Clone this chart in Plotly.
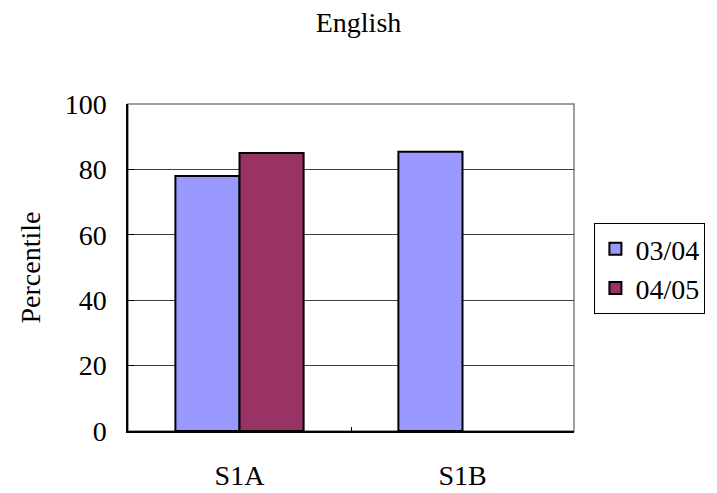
import plotly.graph_objects as go

# datos
categorias = ["S1A", "S1B"]
serie_0304 = [78, 85.4]
serie_0405 = [85, None]
ticks_y = [0, 20, 40, 60, 80, 100]

fuente = "Liberation Serif"
negro = dict(family=fuente, size=28, color="black")

fig = go.Figure()
fig.add_trace(go.Bar(x=categorias, y=serie_0304, name="03/04",
                     marker=dict(color="#9999FF", line=dict(color="black", width=2))))
fig.add_trace(go.Bar(x=categorias, y=serie_0405, name="04/05",
                     marker=dict(color="#993366", line=dict(color="black", width=2))))

# borde gris del area de trazado
fig.add_shape(type="rect", xref="paper", yref="paper", x0=0, y0=0, x1=1, y1=1,
              line=dict(color="#808080", width=1.5), layer="below")

fig.update_layout(
    template="none",
    width=717, height=493,
    margin=dict(l=128, r=130, t=104, b=62),
    paper_bgcolor="white", plot_bgcolor="white",
    font=negro,
    title=dict(text="English", x=0.5, xanchor="center", y=1 - 22 / 493, yanchor="middle",
               font=negro),
    barmode="group", bargap=0.425, bargroupgap=0,
    showlegend=True,
    legend=dict(x=(608 - 128) / 459, y=(431 - 223) / 327, xanchor="left", yanchor="top",
                bordercolor="black", borderwidth=1, bgcolor="white",
                font=negro, tracegroupgap=0, traceorder="normal"),
)

fig.update_xaxes(automargin=False, showline=True, linecolor="black", linewidth=1.5,
                 ticks="inside", tickson="boundaries", ticklen=4, tickcolor="black",
                 tickfont=negro, ticklabelstandoff=19, showgrid=False, zeroline=False)
fig.update_yaxes(automargin=False, range=[0, 100], tickvals=ticks_y,
                 showline=True, linecolor="black", linewidth=1.5,
                 ticks="inside", ticklen=6, tickcolor="black", tickfont=negro,
                 showgrid=True, gridcolor="#404040", gridwidth=1,
                 ticklabelstandoff=14, zeroline=False,
                 title=dict(text="Percentile", standoff=16, font=negro))

# quitar el margen del body para que la figura empiece en 0,0
fig.write_html("out.html", config={"displayModeBar": False},
               post_script="document.body.style.margin='0';document.body.style.overflow='hidden';")
